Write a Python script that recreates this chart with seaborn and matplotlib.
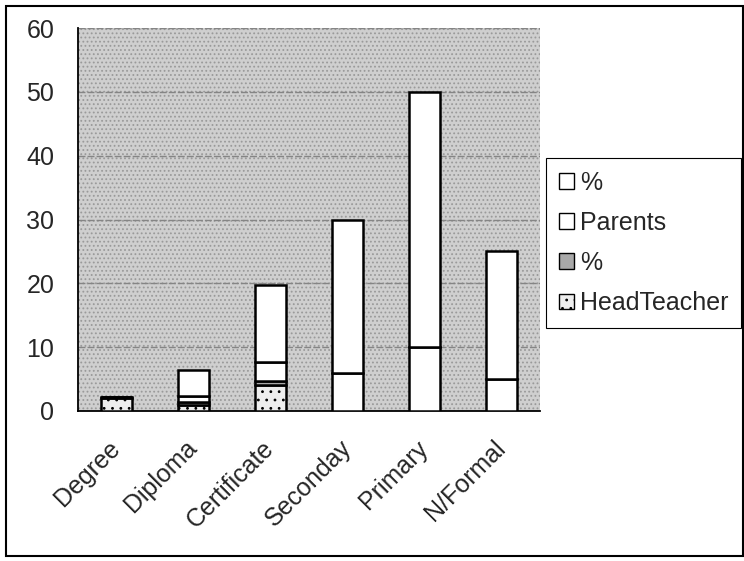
import matplotlib
matplotlib.use("Agg")
import matplotlib.pyplot as plt
from matplotlib.patches import Patch, Rectangle
import seaborn as sns
import numpy as np
import pandas as pd

categories = ["Degree", "Diploma", "Certificate", "Seconday", "Primary", "N/Formal"]
headteacher = [2.0, 1.0, 4.0, 0.0, 0.0, 0.0]
headteacher_pct = [0.2, 0.4, 0.7, 0.0, 0.0, 0.0]
parents = [0.0, 1.0, 3.0, 6.0, 10.0, 5.0]
parents_pct = [0.0, 4.0, 12.0, 24.0, 40.0, 20.0]
series_names = ["HeadTeacher", "%", "Parents", "%"]
yticks = [0, 10, 20, 30, 40, 50, 60]

sns.set_theme(style="white")
plt.rcParams["font.family"] = ["Liberation Sans", "DejaVu Sans"]
plt.rcParams["hatch.linewidth"] = 0.8
FS = 18

fig = plt.figure(figsize=(7.44, 5.61), dpi=100)
W, H = 744, 561
TOP, BOT, LEFT, RIGHT = 28, 411, 78, 540
ax = fig.add_axes([LEFT / W, 1 - BOT / H, (RIGHT - LEFT) / W, (BOT - TOP) / H])
ax.set_facecolor("#cfcfcf")
ax.add_patch(Rectangle((0, 0), 1, 1, transform=ax.transAxes, facecolor="none",
                       edgecolor="#9a9a9a", hatch="....", linewidth=0, zorder=0))

layers = [headteacher, headteacher_pct, parents, parents_pct]
fills = ["#eeeeee", "#a9a9a9", "white", "white"]
hatches = ["..", "", "", ""]
bottom = np.zeros(len(categories))
for vals, fc, hat in zip(layers, fills, hatches):
    df = pd.DataFrame({"cat": categories, "val": vals})
    sns.barplot(data=df, x="cat", y="val", order=categories, bottom=bottom.copy(),
                color=fc, saturation=1, width=0.41, edgecolor="black",
                linewidth=1.8, hatch=hat if hat else None, ax=ax, zorder=3,
                errorbar=None)
    bottom = bottom + np.array(vals)

ax.set_ylim(0, 60)
ax.set_xlim(-0.5, 5.5)
ax.set_yticks(yticks)
ax.set_yticklabels([str(t) for t in yticks], fontsize=FS)
ax.set_xlabel("")
ax.set_ylabel("")
ax.yaxis.grid(True, color="#858585", linewidth=1.0, linestyle=(0, (5, 1.5)))
ax.set_axisbelow(True)
ax.set_xticks(range(len(categories)))
ax.set_xticklabels(categories, rotation=45, ha="right", va="center",
                   rotation_mode="anchor", fontsize=FS)
ax.tick_params(axis="x", which="major", length=0, pad=24)
ax.set_xticks([i + 0.5 for i in range(-1, len(categories))], minor=True)
ax.tick_params(axis="x", which="minor", length=4, color="black", direction="out")
ax.tick_params(axis="y", length=3, color="black", direction="out", pad=14)
for s in ["top", "right"]:
    ax.spines[s].set_visible(False)
for s in ["left", "bottom"]:
    ax.spines[s].set_color("black")
    ax.spines[s].set_linewidth(1.3)

handles = [
    Patch(facecolor="white", edgecolor="black", label="%"),
    Patch(facecolor="white", edgecolor="black", label="Parents"),
    Patch(facecolor="#a9a9a9", edgecolor="black", label="%"),
    Patch(facecolor="#eeeeee", edgecolor="black", hatch="..", label="HeadTeacher"),
]
leg = fig.legend(handles=handles, loc="upper left",
                 bbox_to_anchor=(546 / W, 1 - 158 / H), frameon=True,
                 fancybox=False, framealpha=1, edgecolor="black", fontsize=FS,
                 handlelength=0.6, handleheight=0.6, handletextpad=0.25,
                 labelspacing=0.65, borderpad=0.5, borderaxespad=0)
leg.get_frame().set_linewidth(0.8)

fig.add_artist(Rectangle((6 / W, 1 - 556 / H), (743 - 6) / W, (556 - 6) / H,
                         transform=fig.transFigure, fill=False,
                         edgecolor="black", linewidth=1.5))

fig.savefig("out.png", dpi=100)
